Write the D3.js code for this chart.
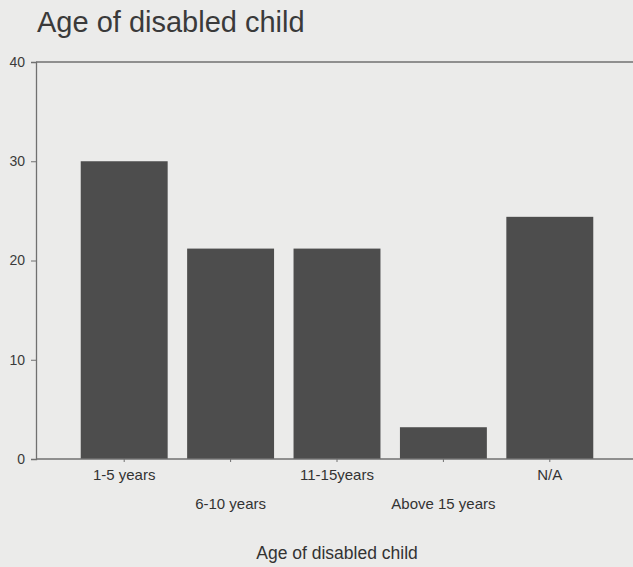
<!DOCTYPE html>
<html>
<head>
<meta charset="utf-8">
<script src="https://cdn.jsdelivr.net/npm/d3@7"></script>
<style>
    body { margin: 0; background: #ebebea; }
    svg { display: block; }
    text { font-family: Arial, "Liberation Sans", sans-serif; fill: #333; }
</style>
</head>
<body>
<div id="chart"></div>
<script>
// values (percent)
const categories = ['1-5 years', '6-10 years', '11-15years', 'Above 15 years', 'N/A'];
const values = [30.0, 21.2, 21.2, 3.2, 24.4];
const yTicks = [0, 10, 20, 30, 40];

const width = 633, height = 567;
const plotLeft = 36, plotTop = 62, plotBottom = 459;

const svg = d3.select('#chart')
    .append('svg')
    .attr('width', width)
    .attr('height', height);

const x = d3.scaleBand()
    .domain(categories)
    .range([71, 603])
    .paddingInner(0.183)
    .paddingOuter(0.0915);

const y = d3.scaleLinear()
    .domain([0, 40])
    .range([plotBottom, plotTop]);

// title
svg.append('text')
    .attr('x', 37)
    .attr('y', 32)
    .attr('font-size', 29)
    .style('fill', '#3a3a3a')
    .text('Age of disabled child');

// top frame line
svg.append('line')
    .attr('x1', plotLeft).attr('x2', width)
    .attr('y1', y(40)).attr('y2', y(40))
    .attr('stroke', '#707070').attr('stroke-width', 1.3);

// bars
svg.selectAll('rect.bar')
    .data(values)
    .enter()
    .append('rect')
    .attr('class', 'bar')
    .attr('x', (d, i) => x(categories[i]))
    .attr('y', d => y(d))
    .attr('width', x.bandwidth())
    .attr('height', d => y(0) - y(d))
    .attr('fill', '#4d4d4d');

// y axis
const yAxis = svg.append('g')
    .attr('transform', `translate(${plotLeft},0)`)
    .call(d3.axisLeft(y).tickValues(yTicks).tickSize(5).tickPadding(6));
yAxis.select('.domain').attr('stroke', '#707070').attr('stroke-width', 1.3);
yAxis.selectAll('.tick line').attr('stroke', '#707070');
yAxis.selectAll('.tick text').attr('font-size', 14).style('fill', '#3a3a3a');

// x axis line
svg.append('line')
    .attr('x1', plotLeft).attr('x2', width)
    .attr('y1', y(0)).attr('y2', y(0))
    .attr('stroke', '#707070').attr('stroke-width', 1.3);

// small ticks under bar centres
svg.selectAll('line.xtick')
    .data(categories)
    .enter()
    .append('line')
    .attr('class', 'xtick')
    .attr('x1', d => x(d) + x.bandwidth() / 2)
    .attr('x2', d => x(d) + x.bandwidth() / 2)
    .attr('y1', y(0))
    .attr('y2', y(0) + 3)
    .attr('stroke', '#707070');

// staggered category labels
svg.selectAll('text.xlabel')
    .data(categories)
    .enter()
    .append('text')
    .attr('class', 'xlabel')
    .attr('x', d => x(d) + x.bandwidth() / 2)
    .attr('y', (d, i) => i % 2 === 0 ? 480 : 509)
    .attr('text-anchor', 'middle')
    .attr('font-size', 15)
    .text(d => d);

// axis title
svg.append('text')
    .attr('x', 337)
    .attr('y', 559)
    .attr('text-anchor', 'middle')
    .attr('font-size', 17.5)
    .text('Age of disabled child');
</script>
</body>
</html>
